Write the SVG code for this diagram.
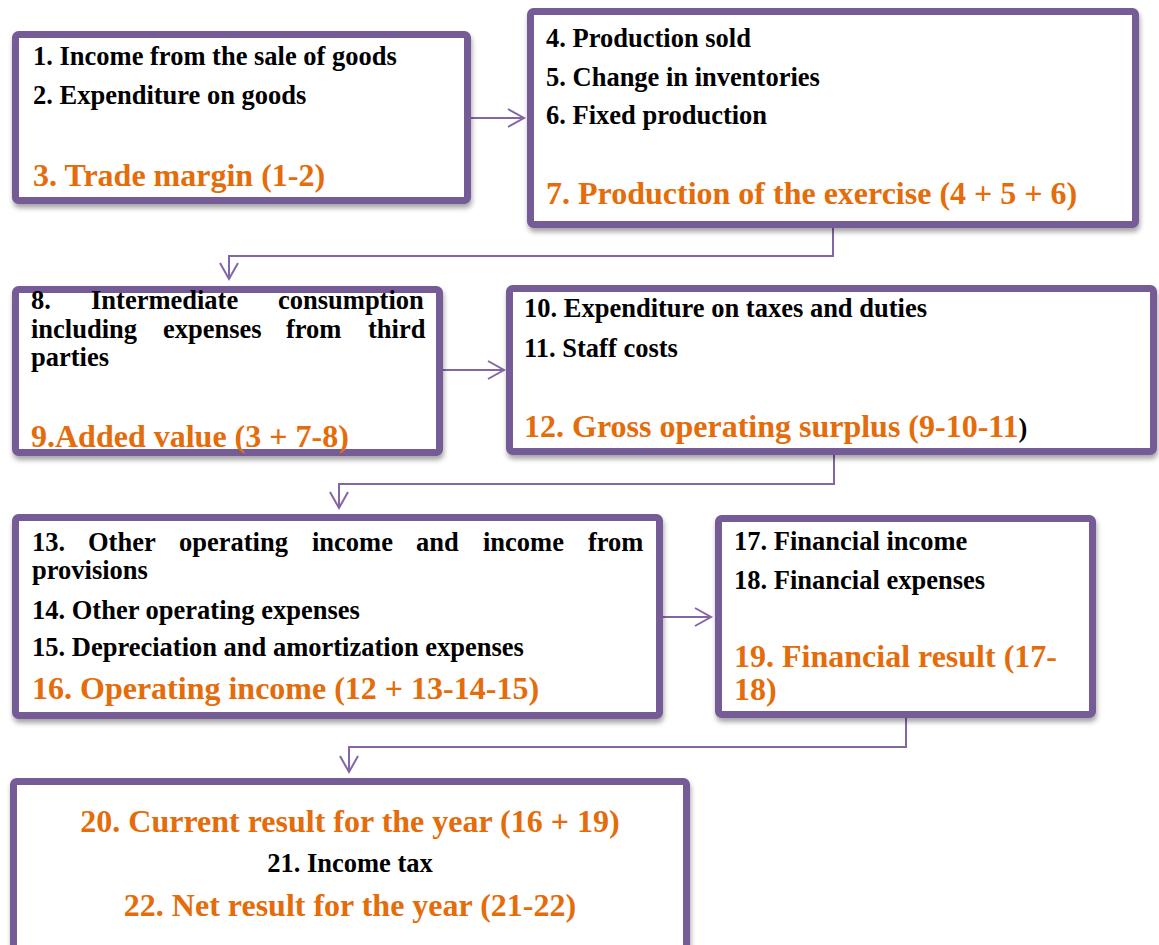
<svg xmlns="http://www.w3.org/2000/svg" width="1159" height="945" viewBox="0 0 1159 945">
<style>
.box{fill:#ffffff;stroke:#765b96;stroke-width:7;filter:url(#sh)}
.t{font-family:"Liberation Serif","Times New Roman",serif;font-weight:bold;font-size:26.5px;fill:#000}
.o{font-family:"Liberation Serif","Times New Roman",serif;font-weight:bold;font-size:32px;fill:#e46c0a}
.c{fill:none;stroke:#8466a6;stroke-width:2}
</style>
<defs>
<filter id="sh" x="-5%" y="-5%" width="110%" height="115%">
<feDropShadow dx="1" dy="4" stdDeviation="2.5" flood-color="#000" flood-opacity="0.35"/>
</filter>
<marker id="ah" markerWidth="20" markerHeight="22" refX="17" refY="10" orient="auto" markerUnits="userSpaceOnUse">
<path d="M1,1 L17,10 L1,19" fill="none" stroke="#8466a6" stroke-width="2"/>
</marker>
</defs>
<g id="connectors">
<path class="c" d="M471,118 H524" marker-end="url(#ah)"/>
<path class="c" d="M833,228 V256 H229 V279" marker-end="url(#ah)"/>
<path class="c" d="M443,370 H504" marker-end="url(#ah)"/>
<path class="c" d="M834,455 V484 H339 V508" marker-end="url(#ah)"/>
<path class="c" d="M663,617 H711" marker-end="url(#ah)"/>
<path class="c" d="M906,718 V747 H349 V772" marker-end="url(#ah)"/>
</g>
<g id="n1">
<rect class="box" x="15.5" y="34.5" width="452" height="166" rx="3"/>
<text class="t" x="33" y="64.5">1. Income from the sale of goods</text>
<text class="t" x="33" y="103.5">2. Expenditure on goods</text>
<text class="o" x="33" y="185.5">3. Trade margin (1-2)</text>
</g>
<g id="n2">
<rect class="box" x="530.5" y="11.5" width="605" height="213" rx="3"/>
<text class="t" x="546" y="46.5">4. Production sold</text>
<text class="t" x="546" y="85.5">5. Change in inventories</text>
<text class="t" x="546" y="123.5">6. Fixed production</text>
<text class="o" x="546" y="203.5">7. Production of the exercise (4 + 5 + 6)</text>
</g>
<g id="n3">
<rect class="box" x="15.5" y="289.5" width="424" height="163" rx="3"/>
<text class="t" y="309"><tspan x="31">8.</tspan><tspan x="91">Intermediate</tspan><tspan x="278">consumption</tspan></text>
<text class="t" y="338"><tspan x="31">including</tspan><tspan x="163">expenses</tspan><tspan x="286">from</tspan><tspan x="368">third</tspan></text>
<text class="t" x="31" y="366">parties</text>
<text class="o" x="31" y="447">9.Added value (3 + 7-8)</text>
</g>
<g id="n4">
<rect class="box" x="509.5" y="288.5" width="644" height="163" rx="3"/>
<text class="t" x="524" y="316.5">10. Expenditure on taxes and duties</text>
<text class="t" x="524" y="356.5">11. Staff costs</text>
<text x="524" y="437"><tspan class="o">12. Gross operating surplus (9-10-11</tspan><tspan class="t">)</tspan></text>
</g>
<g id="n5">
<rect class="box" x="15.5" y="517.5" width="644" height="198" rx="3"/>
<text class="t" y="551"><tspan x="32">13.</tspan><tspan x="88">Other</tspan><tspan x="179">operating</tspan><tspan x="312">income</tspan><tspan x="416">and</tspan><tspan x="483">income</tspan><tspan x="588">from</tspan></text>
<text class="t" x="32" y="579">provisions</text>
<text class="t" x="32" y="618.5">14. Other operating expenses</text>
<text class="t" x="32" y="655.5">15. Depreciation and amortization expenses</text>
<text class="o" x="32" y="699">16. Operating income (12 + 13-14-15)</text>
</g>
<g id="n6">
<rect class="box" x="718.5" y="518.5" width="374" height="196" rx="3"/>
<text class="t" x="734" y="549.5">17. Financial income</text>
<text class="t" x="734" y="588.5">18. Financial expenses</text>
<text class="o" x="734" y="667">19. Financial result (17-</text>
<text class="o" x="734" y="700">18)</text>
</g>
<g id="n7">
<rect class="box" x="13.5" y="781.5" width="673" height="175" rx="3"/>
<text class="o" x="350" y="832" text-anchor="middle">20. Current result for the year (16 + 19)</text>
<text class="t" x="350" y="872" text-anchor="middle">21. Income tax</text>
<text class="o" x="350" y="916" text-anchor="middle">22. Net result for the year (21-22)</text>
</g>
</svg>
